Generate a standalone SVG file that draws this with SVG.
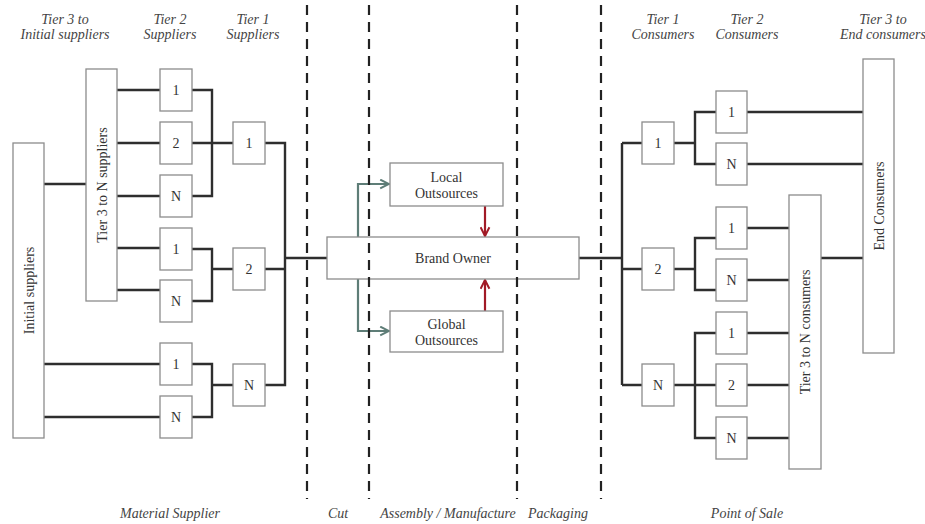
<svg xmlns="http://www.w3.org/2000/svg" width="925" height="524" viewBox="0 0 925 524">
  <defs>
    <style>
      .box { fill: #ffffff; stroke: #8c8c8c; stroke-width: 1.3; }
      .lbl { font-family: "Liberation Serif", "Times New Roman", serif; font-size: 14px; fill: #333333; text-anchor: middle; }
      .hdr { font-family: "Liberation Serif", "Times New Roman", serif; font-size: 14px; font-style: italic; fill: #444444; text-anchor: middle; }
      .wire { fill: none; stroke: #2e2e2e; stroke-width: 2.4; }
      .teal { fill: none; stroke: #5e7d77; stroke-width: 2.2; }
      .red { fill: none; stroke: #a11a26; stroke-width: 2.2; }
      .dash { fill: none; stroke: #222222; stroke-width: 2.2; stroke-dasharray: 10 7; }
    </style>
    <marker id="tealHead" viewBox="0 0 10 10" refX="9" refY="5" markerWidth="5" markerHeight="5" markerUnits="strokeWidth" orient="auto">
      <path d="M1,1 L9,5 L1,9" fill="none" stroke="#5e7d77" stroke-width="1.8"/>
    </marker>
    <marker id="redHead" viewBox="0 0 10 10" refX="9" refY="5" markerWidth="5" markerHeight="5" markerUnits="strokeWidth" orient="auto">
      <path d="M1,1 L9,5 L1,9" fill="none" stroke="#a11a26" stroke-width="1.8"/>
    </marker>
  </defs>
  <rect width="925" height="524" fill="#ffffff"/>

  <!-- column headings -->
  <g id="headings">
    <text class="hdr" x="65" y="24">Tier 3 to</text>
    <text class="hdr" x="65" y="39">Initial suppliers</text>
    <text class="hdr" x="170" y="24">Tier 2</text>
    <text class="hdr" x="170" y="39">Suppliers</text>
    <text class="hdr" x="253" y="24">Tier 1</text>
    <text class="hdr" x="253" y="39">Suppliers</text>
    <text class="hdr" x="663" y="24">Tier 1</text>
    <text class="hdr" x="663" y="39">Consumers</text>
    <text class="hdr" x="747" y="24">Tier 2</text>
    <text class="hdr" x="747" y="39">Consumers</text>
    <text class="hdr" x="883" y="24">Tier 3 to</text>
    <text class="hdr" x="883" y="39">End consumers</text>
    <text class="hdr" x="170" y="518">Material Supplier</text>
    <text class="hdr" x="338" y="518">Cut</text>
    <text class="hdr" x="448" y="518">Assembly / Manufacture</text>
    <text class="hdr" x="558" y="518">Packaging</text>
    <text class="hdr" x="747" y="518">Point of Sale</text>
  </g>

  <!-- connectors -->
  <g id="connectors">
    <!-- supply side -->
    <path class="wire" d="M44 184 H86"/>
    <path class="wire" d="M117 90 H160 M117 143 H160 M117 196 H160 M117 248 H160 M117 290 H160"/>
    <path class="wire" d="M192 90 H212 V196 H192 M192 143 H233"/>
    <path class="wire" d="M192 249 H212 V301 H192 M212 269 H233"/>
    <path class="wire" d="M44 364 H160 M44 417 H160"/>
    <path class="wire" d="M192 364 H212 V417 H192 M212 385 H233"/>
    <path class="wire" d="M265 143 H285 V385 H265 M265 269 H285 M285 258 H327"/>
    <!-- brand owner to outsources -->
    <path class="teal" d="M358 237 V184 H389" marker-end="url(#tealHead)"/>
    <path class="teal" d="M358 279 V331 H389" marker-end="url(#tealHead)"/>
    <path class="red" d="M485 206 V236" marker-end="url(#redHead)"/>
    <path class="red" d="M485 311 V280" marker-end="url(#redHead)"/>
    <!-- consumer side -->
    <path class="wire" d="M579 258 H622"/>
    <path class="wire" d="M622 143 V385 M622 143 H642 M622 269 H642 M622 385 H642"/>
    <path class="wire" d="M674 143 H695 M716 112 H695 V164 H716"/>
    <path class="wire" d="M674 269 H695 M716 238 H695 V290 H716"/>
    <path class="wire" d="M674 385 H716 M716 333 H695 V438 H716"/>
    <path class="wire" d="M747 112 H863 M747 164 H863"/>
    <path class="wire" d="M747 228 H789 M747 280 H789 M747 333 H789 M747 385 H789 M747 438 H789"/>
    <path class="wire" d="M821 258 H863"/>
  </g>

  <!-- supply side nodes -->
  <g id="initial-suppliers">
    <rect class="box" x="13" y="143" width="31" height="295"/>
    <text class="lbl" transform="translate(33.5 290.5) rotate(-90)" x="0" y="0">Initial suppliers</text>
  </g>
  <g id="tier3n-suppliers">
    <rect class="box" x="86" y="69" width="31" height="232"/>
    <text class="lbl" transform="translate(106.5 185) rotate(-90)" x="0" y="0">Tier 3 to N suppliers</text>
  </g>
  <g id="s2-a1"><rect class="box" x="160" y="69" width="32" height="42"/><text class="lbl" x="176" y="95">1</text></g>
  <g id="s2-a2"><rect class="box" x="160" y="122" width="32" height="42"/><text class="lbl" x="176" y="148">2</text></g>
  <g id="s2-aN"><rect class="box" x="160" y="175" width="32" height="42"/><text class="lbl" x="176" y="201">N</text></g>
  <g id="s2-b1"><rect class="box" x="160" y="228" width="32" height="42"/><text class="lbl" x="176" y="254">1</text></g>
  <g id="s2-bN"><rect class="box" x="160" y="280" width="32" height="42"/><text class="lbl" x="176" y="306">N</text></g>
  <g id="s2-c1"><rect class="box" x="160" y="343" width="32" height="42"/><text class="lbl" x="176" y="369">1</text></g>
  <g id="s2-cN"><rect class="box" x="160" y="396" width="32" height="42"/><text class="lbl" x="176" y="422">N</text></g>
  <g id="s1-1"><rect class="box" x="233" y="122" width="32" height="42"/><text class="lbl" x="249" y="148">1</text></g>
  <g id="s1-2"><rect class="box" x="233" y="248" width="32" height="42"/><text class="lbl" x="249" y="274">2</text></g>
  <g id="s1-N"><rect class="box" x="233" y="364" width="32" height="42"/><text class="lbl" x="249" y="390">N</text></g>

  <!-- brand owner and outsourcing -->
  <g id="brand-owner">
    <rect class="box" x="327" y="237" width="252" height="42"/>
    <text class="lbl" x="453" y="263">Brand Owner</text>
  </g>
  <g id="local-outsources">
    <rect class="box" x="390" y="163" width="113" height="43"/>
    <text class="lbl" x="446.5" y="182">Local</text>
    <text class="lbl" x="446.5" y="198">Outsources</text>
  </g>
  <g id="global-outsources">
    <rect class="box" x="390" y="311" width="113" height="41"/>
    <text class="lbl" x="446.5" y="329">Global</text>
    <text class="lbl" x="446.5" y="345">Outsources</text>
  </g>

  <!-- consumer side nodes -->
  <g id="c1-1"><rect class="box" x="642" y="122" width="32" height="42"/><text class="lbl" x="658" y="148">1</text></g>
  <g id="c1-2"><rect class="box" x="642" y="248" width="32" height="42"/><text class="lbl" x="658" y="274">2</text></g>
  <g id="c1-N"><rect class="box" x="642" y="364" width="32" height="42"/><text class="lbl" x="658" y="390">N</text></g>
  <g id="c2-a1"><rect class="box" x="716" y="91" width="31" height="42"/><text class="lbl" x="731.5" y="117">1</text></g>
  <g id="c2-aN"><rect class="box" x="716" y="143" width="31" height="42"/><text class="lbl" x="731.5" y="169">N</text></g>
  <g id="c2-b1"><rect class="box" x="716" y="207" width="31" height="42"/><text class="lbl" x="731.5" y="233">1</text></g>
  <g id="c2-bN"><rect class="box" x="716" y="259" width="31" height="42"/><text class="lbl" x="731.5" y="285">N</text></g>
  <g id="c2-c1"><rect class="box" x="716" y="312" width="31" height="42"/><text class="lbl" x="731.5" y="338">1</text></g>
  <g id="c2-c2"><rect class="box" x="716" y="364" width="31" height="42"/><text class="lbl" x="731.5" y="390">2</text></g>
  <g id="c2-cN"><rect class="box" x="716" y="417" width="31" height="42"/><text class="lbl" x="731.5" y="443">N</text></g>
  <g id="tier3n-consumers">
    <rect class="box" x="789" y="195" width="32" height="274"/>
    <text class="lbl" transform="translate(810 332) rotate(-90)" x="0" y="0">Tier 3 to N consumers</text>
  </g>
  <g id="end-consumers">
    <rect class="box" x="863" y="59" width="31" height="294"/>
    <text class="lbl" transform="translate(883.5 206) rotate(-90)" x="0" y="0">End Consumers</text>
  </g>

  <!-- stage boundaries -->
  <g id="stage-lines">
    <path class="dash" d="M307 5 V499 M369 5 V499 M517 5 V499 M601 5 V499"/>
  </g>
</svg>
